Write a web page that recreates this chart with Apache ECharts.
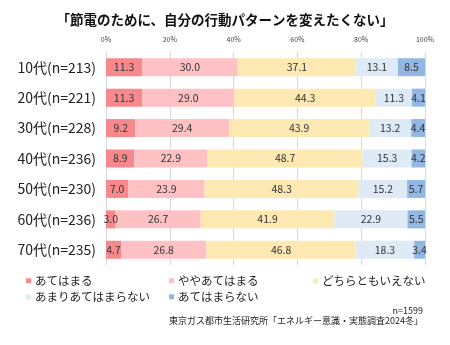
<!DOCTYPE html>
<html>
<head>
<meta charset="utf-8">
<script src="https://cdn.jsdelivr.net/npm/echarts@6/dist/echarts.min.js"></script>
<style>
  html, body { margin: 0; padding: 0; background: #fff; }
  #chart { width: 450px; height: 345px; }
</style>
</head>
<body>
<div id="chart"></div>
<script>
// Age groups, top to bottom
const categories = ['10代(n=213)', '20代(n=221)', '30代(n=228)', '40代(n=236)', '50代(n=230)', '60代(n=236)', '70代(n=235)'];

// Answer shares (%) per age group
const atehamaru         = [11.3, 11.3, 9.2, 8.9, 7.0, 3.0, 4.7];
const yayaAtehamaru     = [30.0, 29.0, 29.4, 22.9, 23.9, 26.7, 26.8];
const dochiramo         = [37.1, 44.3, 43.9, 48.7, 48.3, 41.9, 46.8];
const amariAtehamaranai = [13.1, 11.3, 13.2, 15.3, 15.2, 22.9, 18.3];
const atehamaranai      = [8.5, 4.1, 4.4, 4.2, 5.7, 5.5, 3.4];

const seriesNames = ['あてはまる', 'ややあてはまる', 'どちらともいえない', 'あまりあてはまらない', 'あてはまらない'];
const seriesData = [atehamaru, yayaAtehamaru, dochiramo, amariAtehamaranai, atehamaranai];
const colors = ['#f7898c', '#ffc1c4', '#ffe9b3', '#deebf7', '#93b7e3'];

const axisTicks = [0, 20, 40, 60, 80, 100];

const sampleNote = 'n=1599';
const sourceNote = '東京ガス都市生活研究所「エネルギー意識・実態調査2024冬」';

const FONT = '"Noto Sans CJK JP", "Noto Sans", sans-serif';

// legend entry placement: [left, top]
const legendSlots = [[26, 275], [169, 275], [313, 275], [26, 291], [169, 291]];

const chart = echarts.init(document.getElementById('chart'), null, { renderer: 'canvas' });

chart.setOption({
  animation: false,
  color: colors,
  textStyle: { fontFamily: FONT },
  title: {
    text: '「節電のために、自分の行動パターンを変えたくない」',
    left: 'center',
    top: 8,
    textStyle: { fontSize: 13.5, fontWeight: 'bold', color: '#111', fontFamily: FONT }
  },
  graphic: [
    {
      type: 'text',
      right: 27,
      top: 306,
      style: { text: sampleNote, fontSize: 9, fill: '#222', fontFamily: FONT, textAlign: 'right' }
    },
    {
      type: 'text',
      right: 27,
      top: 316,
      style: { text: sourceNote, fontSize: 9, fill: '#222', fontFamily: FONT, textAlign: 'right' }
    }
  ],
  legend: seriesNames.map((name, i) => ({
    data: [name],
    left: legendSlots[i][0],
    top: legendSlots[i][1],
    padding: 0,
    itemWidth: 5,
    itemHeight: 5,
    itemGap: 0,
    icon: 'rect',
    textStyle: { fontSize: 11.5, color: '#222', fontFamily: FONT, padding: [0, 0, 0, -1] }
  })),
  grid: { left: 106, right: 25, top: 52, height: 213, containLabel: false },
  xAxis: {
    type: 'value',
    position: 'top',
    min: axisTicks[0],
    max: axisTicks[axisTicks.length - 1],
    interval: 20,
    axisLine: { show: false },
    axisTick: { show: false },
    axisLabel: {
      formatter: v => v + '%',
      fontSize: 7,
      color: '#444',
      margin: 9
    },
    splitLine: { show: true, lineStyle: { color: '#d9d9d9', width: 1 } }
  },
  yAxis: {
    type: 'category',
    data: categories,
    inverse: true,
    axisLine: { show: false },
    axisTick: { show: false },
    axisLabel: { fontSize: 14, color: '#222', margin: 10 }
  },
  series: seriesNames.map((name, i) => ({
    name,
    type: 'bar',
    stack: 'total',
    barWidth: 18,
    data: seriesData[i],
    label: {
      show: true,
      position: 'inside',
      formatter: p => p.value.toFixed(1),
      fontSize: 10.5,
      color: '#333'
    }
  }))
});
</script>
</body>
</html>
